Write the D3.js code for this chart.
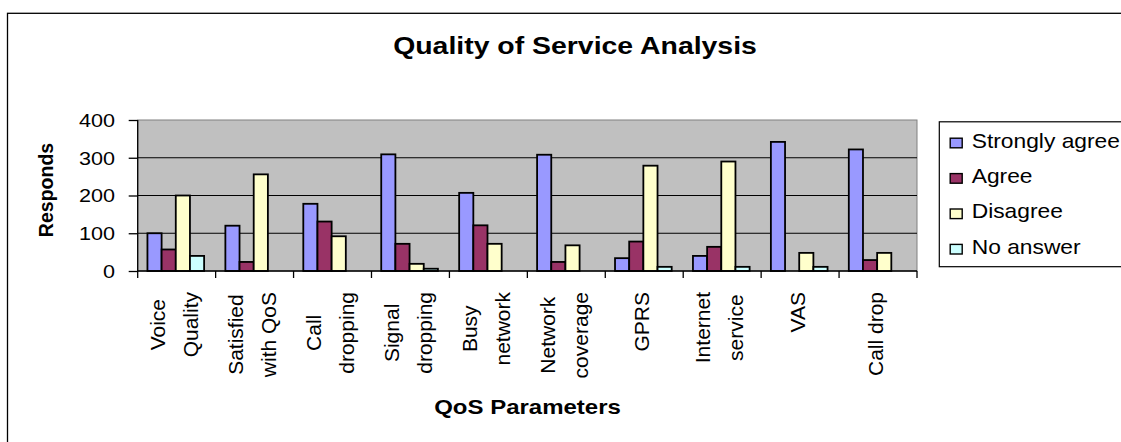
<!DOCTYPE html>
<html>
<head>
<meta charset="utf-8">
<script src="https://cdn.jsdelivr.net/npm/d3@7"></script>
<style>
  html, body { margin: 0; padding: 0; background: #ffffff; }
  svg { display: block; }
  text { font-family: "Liberation Sans", Arial, sans-serif; fill: #000; }
</style>
</head>
<body>
<svg id="chart" width="1121" height="442"></svg>
<script>
// Survey responses per QoS parameter
const categories = ["Voice\nQuality", "Satisfied\nwith QoS", "Call\ndropping", "Signal\ndropping",
  "Busy\nnetwork", "Network\ncoverage", "GPRS", "Internet\nservice", "VAS", "Call drop"];
const seriesNames = ["Strongly agree", "Agree", "Disagree", "No answer"];
const stronglyAgree = [100, 120, 178, 309, 207, 308, 34, 40, 342, 322];
const agree         = [57, 24, 131, 72, 121, 24, 78, 64, 0, 29];
const disagree      = [200, 256, 92, 19, 72, 68, 279, 290, 48, 48];
const noAnswer      = [40, 0, 0, 6, 0, 0, 11, 11, 11, 0];
const yTicks = [0, 100, 200, 300, 400];
const colors = ["#9999ff", "#993366", "#ffffcc", "#ccffff"];

const series = [stronglyAgree, agree, disagree, noAnswer];

const svg = d3.select("#chart");
const SX = 1.2; // horizontal widening of upright text

const plot = { left: 137.7, right: 917, top: 120, bottom: 271 };

// outer chart frame (runs off the right and bottom edges)
svg.append("rect")
  .attr("x", 7.5).attr("y", 13.3).attr("width", 1200).attr("height", 500)
  .attr("fill", "none").attr("stroke", "#000").attr("stroke-width", 1.3);

const x = d3.scaleBand().domain(categories).range([plot.left, plot.right]).padding(0);
const y = d3.scaleLinear().domain([0, 400]).range([plot.bottom, plot.top]);
const bw = x.bandwidth();
const barW = bw / 5.5;
const inner = d3.scaleBand().domain(seriesNames)
  .range([bw * 0.125, bw * 0.125 + barW * 4]).padding(0);

// plot area
svg.append("rect")
  .attr("x", plot.left).attr("y", plot.top)
  .attr("width", plot.right - plot.left).attr("height", plot.bottom - plot.top)
  .attr("fill", "#c0c0c0").attr("stroke", "#808080").attr("stroke-width", 1);

// gridlines
svg.append("g").selectAll("line").data(yTicks.filter(t => t > 0 && t < 400)).join("line")
  .attr("x1", plot.left).attr("x2", plot.right)
  .attr("y1", d => y(d)).attr("y2", d => y(d))
  .attr("stroke", "#000").attr("stroke-width", 1);

// bars
const groups = svg.append("g").selectAll("g").data(categories).join("g")
  .attr("transform", d => `translate(${x(d)},0)`);
groups.selectAll("rect")
  .data((d, i) => series.map((s, k) => ({ name: seriesNames[k], v: s[i], k })))
  .join("rect")
  .attr("x", d => inner(d.name))
  .attr("width", inner.bandwidth())
  .attr("y", d => y(d.v))
  .attr("height", d => y(0) - y(d.v))
  .attr("fill", d => colors[d.k])
  .attr("stroke", "#000").attr("stroke-width", 1.8);

// y axis
const yAxis = svg.append("g").attr("transform", `translate(${plot.left},0)`)
  .call(d3.axisLeft(y).tickValues(yTicks).tickSize(9).tickPadding(0).tickFormat(d3.format("d")));
yAxis.select(".domain").attr("stroke", "#000").attr("stroke-width", 1.3).attr("d", `M0,${plot.top}V${plot.bottom}`);
yAxis.selectAll(".tick line").attr("stroke", "#000").attr("stroke-width", 1.3);
yAxis.selectAll(".tick text").remove();
yAxis.selectAll(".tick").append("text")
  .attr("transform", `translate(-22.7,0) scale(${SX},1)`)
  .attr("text-anchor", "end").attr("dy", "0.35em")
  .style("font-size", "18px").style("font-family", "'Liberation Sans', Arial, sans-serif")
  .attr("fill", "#000")
  .text(d => d);

// x axis with ticks at category boundaries
const xAxisG = svg.append("g");
xAxisG.append("line")
  .attr("x1", plot.left).attr("x2", plot.right)
  .attr("y1", plot.bottom).attr("y2", plot.bottom)
  .attr("stroke", "#000").attr("stroke-width", 1.3);
const bounds = categories.map(c => x(c)).concat([plot.right]);
xAxisG.selectAll("line.tk").data(bounds).join("line").attr("class", "tk")
  .attr("x1", d => d).attr("x2", d => d)
  .attr("y1", plot.bottom).attr("y2", plot.bottom + 7)
  .attr("stroke", "#000").attr("stroke-width", 1.3);

// rotated category labels
const labelTop = 292;
const lineGap = 33;
categories.forEach(c => {
  const lines = c.split("\n");
  const gc = x(c) + bw / 2 - 2.7;
  const g = svg.append("g");
  const texts = lines.map((ln, i) => g.append("text")
    .style("font-size", "21px")
    .attr("text-anchor", "middle").attr("dominant-baseline", "central")
    .text(ln));
  const L = d3.max(texts, t => t.node().getComputedTextLength());
  texts.forEach((t, i) => {
    const cx = gc + (i - (lines.length - 1) / 2) * lineGap;
    t.attr("transform", `translate(${cx},${labelTop + L / 2}) rotate(-90)`);
  });
});

// title
svg.append("text")
  .attr("transform", `translate(575,54) scale(${SX * 1.03},1)`)
  .attr("text-anchor", "middle")
  .style("font-size", "23px").style("font-weight", "bold")
  .text("Quality of Service Analysis");

// axis titles
svg.append("text")
  .attr("transform", `translate(527.5,414) scale(${SX},1)`)
  .attr("text-anchor", "middle")
  .style("font-size", "20px").style("font-weight", "bold")
  .text("QoS Parameters");

svg.append("text")
  .attr("transform", "translate(46,190) rotate(-90)")
  .attr("text-anchor", "middle").attr("dominant-baseline", "central")
  .style("font-size", "19.5px").style("font-weight", "bold")
  .text("Responds");

// legend
const lg = svg.append("g");
lg.append("rect")
  .attr("x", 939.3).attr("y", 121.8).attr("width", 300).attr("height", 144.9)
  .attr("fill", "#fff").attr("stroke", "#000").attr("stroke-width", 1.2);
const items = lg.selectAll("g.item").data(seriesNames).join("g").attr("class", "item")
  .attr("transform", (d, i) => `translate(949.5,${137.5 + i * 35.4})`);
items.append("rect")
  .attr("x", 0.7).attr("y", 0.7).attr("width", 12).attr("height", 9.6)
  .attr("fill", (d, i) => colors[i]).attr("stroke", "#000").attr("stroke-width", 1.4);
items.append("text")
  .attr("transform", "translate(22.2,10) scale(1.14,1)")
  .style("font-size", "20px")
  .text(d => d);
</script>
</body>
</html>
